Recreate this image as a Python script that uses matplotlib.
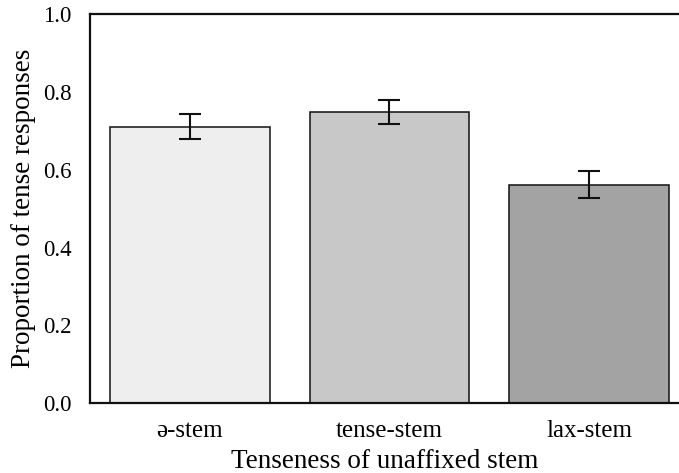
import matplotlib
matplotlib.use("Agg")
import matplotlib.pyplot as plt

# Data
categories = ["ə-stem", "tense-stem", "lax-stem"]
proportions = [0.711, 0.749, 0.562]
errors = [0.031, 0.031, 0.035]
bar_colors = ["#eeeeee", "#c8c8c8", "#a3a3a3"]

plt.rcParams['font.family'] = ['Liberation Serif', 'DejaVu Serif']

fig = plt.figure(figsize=(6.79, 4.73), dpi=100)
ax = fig.add_axes([0.1325, 0.1474, 0.8675, 0.8230])

x = range(len(categories))
ax.bar(x, proportions, width=0.8, color=bar_colors, edgecolor="#111111", linewidth=1.1,
       yerr=errors, error_kw=dict(ecolor="#111111", elinewidth=1.5, capsize=8, capthick=1.5))

ax.set_xlim(-0.5, 2.45)
ax.set_ylim(0, 1.0)
ax.set_yticks([0.0, 0.2, 0.4, 0.6, 0.8, 1.0])
ax.set_yticklabels(["0.0", "0.2", "0.4", "0.6", "0.8", "1.0"])
ax.set_xticks(list(x))
ax.set_xticklabels(categories)
ax.tick_params(axis='y', length=0, pad=13, labelsize=16.5)
ax.tick_params(axis='x', length=0, pad=12, labelsize=18)

for side in ['left', 'top', 'bottom']:
    ax.spines[side].set_linewidth(1.6)
    ax.spines[side].set_color("#111111")
ax.spines['right'].set_visible(False)

ax.set_xlabel("Tenseness of unaffixed stem", fontsize=19.5, labelpad=5)
ax.set_ylabel("Proportion of tense responses", fontsize=19.5, labelpad=5)

fig.savefig("out.png", dpi=100)
